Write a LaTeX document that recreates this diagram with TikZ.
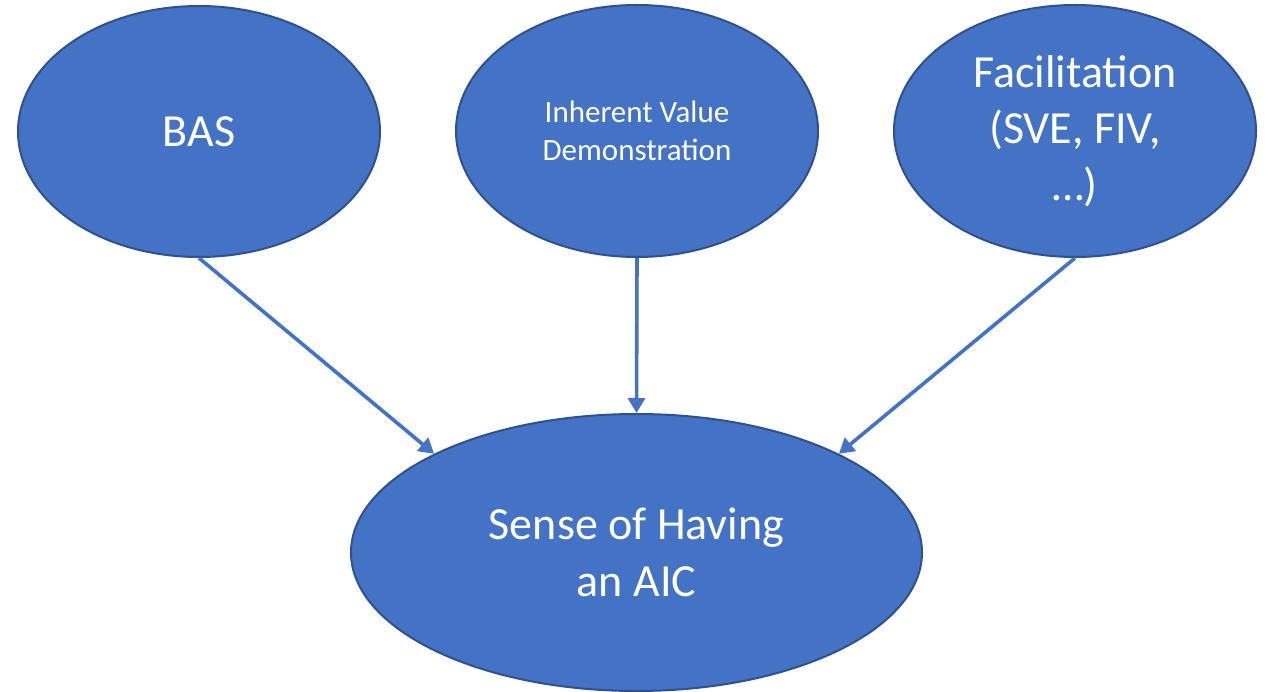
\documentclass[tikz,border=0pt]{standalone}
\usepackage{fontspec}
\setmainfont{Carlito}
\usetikzlibrary{shapes.geometric,arrows.meta}
\definecolor{ovfill}{HTML}{4472C4}
\definecolor{ovline}{HTML}{2F528F}
\tikzset{
  oval/.style={ellipse, draw=ovline, fill=ovfill, line width=2pt, inner sep=0pt,
    text=white, align=center, font=\fontsize{46}{56.5}\selectfont},
  smalltext/.style={font=\fontsize{31}{38}\selectfont},
  link/.style={draw=ovfill, line width=3.6pt, -{Triangle[length=15pt,width=17pt]}}
}
\begin{document}
\begin{tikzpicture}[x=1pt,y=-1pt]
\useasboundingbox (0,0) rectangle (1271,692);
\node[oval, minimum width=362pt, minimum height=251pt] (bas) at (199,131.5) {BAS};
\node[oval, smalltext, minimum width=362pt, minimum height=252pt] (ivd) at (637,131) {Inherent Value\\Demonstration};
\node[oval, minimum width=362pt, minimum height=252pt] (fac) at (1075,131) {Facilitation\\(SVE, FIV,\\…)};
\node[oval, minimum width=571pt, minimum height=277pt] (aic) at (636.5,552.5) {Sense of Having\\an AIC};
\draw[link] (bas.south) -- (aic.154);
\draw[link] (ivd.south) -- (aic.north);
\draw[link] (fac.south) -- (aic.26);
\end{tikzpicture}
\end{document}
